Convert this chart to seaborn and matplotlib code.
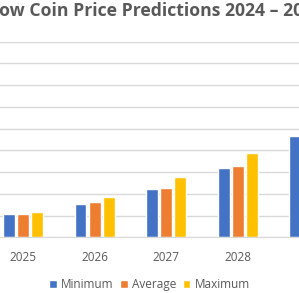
import pandas as pd
import seaborn as sns
import matplotlib.pyplot as plt

YEARS = ["2025", "2026", "2027", "2028", "2029"]
SERIES = ["Minimum", "Average", "Maximum"]
minimum = [1.06, 1.55, 2.24, 3.21, 4.64]
average = [1.09, 1.61, 2.29, 3.30, 4.80]
maximum = [1.18, 1.84, 2.78, 3.87, 5.40]
COLORS = ["#4472C4", "#ED7D31", "#FFC000"]
TITLE = "Shadow Coin Price Predictions 2024 – 2030"

rows = []
for i, year in enumerate(YEARS):
    rows.append((year, "Minimum", minimum[i]))
    rows.append((year, "Average", average[i]))
    rows.append((year, "Maximum", maximum[i]))
df = pd.DataFrame(rows, columns=["Year", "Series", "Price"])

sns.set_style("white")
plt.rcParams["font.family"] = ["Open Sans", "DejaVu Sans"]

fig = plt.figure(figsize=(2.99, 2.93), dpi=100)
ax = fig.add_axes([0, 0.190, 1, 0.668])
sns.barplot(data=df, x="Year", y="Price", hue="Series", hue_order=SERIES,
            palette=COLORS, saturation=1, width=0.59, gap=0.15, ax=ax)

handles, labels = ax.get_legend_handles_labels()
ax.get_legend().remove()

ax.set_xlim(-0.321, 3.855)
ax.set_ylim(0, 9)
ax.set_yticks(range(0, 10))
ax.yaxis.grid(True, color="#d9d9d9", linewidth=1)
ax.set_axisbelow(True)
for side in ["top", "left", "right"]:
    ax.spines[side].set_visible(False)
ax.spines["bottom"].set_color("#d9d9d9")
ax.tick_params(axis="y", left=False, labelleft=False)
ax.tick_params(axis="x", bottom=False, labelsize=8.5, colors="#595959", pad=6)
ax.set_xlabel("")
ax.set_ylabel("")

fig.legend(handles, labels, loc="center", bbox_to_anchor=(0.5, 0.028), ncol=3,
           frameon=False, fontsize=8.5, labelcolor="#595959",
           handlelength=0.65, handleheight=0.65, handletextpad=0.35, columnspacing=0.55)

# shift the title so the visible part lines up with the cropped reference
renderer = fig.canvas.get_renderer()
probe = fig.text(0, 0, "Shad", fontsize=12.7, weight="bold")
w = probe.get_window_extent(renderer).width
probe.remove()
fig.text(-(w + 1) / (2.99 * 100), 0.962, TITLE, fontsize=12.7, weight="bold",
         color="#595959", ha="left", va="center")

fig.savefig("out.png", dpi=100)
